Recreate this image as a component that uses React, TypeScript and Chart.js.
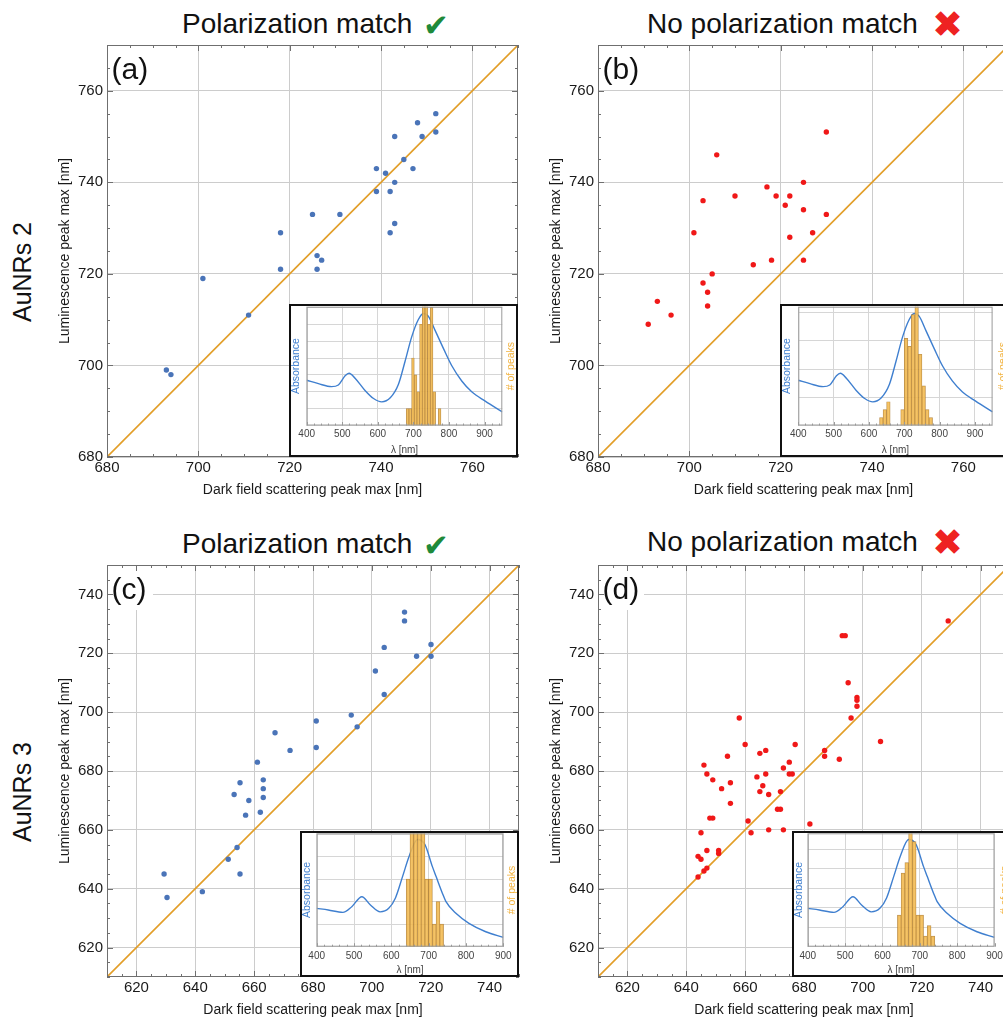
import React, { useEffect, useRef } from 'react';
import { Chart, registerables } from 'chart.js';

Chart.register(...registerables);

const FONT = '"Liberation Sans", Arial, Helvetica, sans-serif';
const ORANGE = 'rgb(226,158,40)';
const BLUE_PT = '#4a74b8';
const RED_PT = '#f01818';
const GRID = '#cccccc';
const GRID_IN = '#d6d6d6';

// ---------------- Main panels: axis ranges, ticks & y = x reference line ----------------
const AB_RANGE = [680, 770];
const CD_RANGE = [610, 750];
const AB_TICKS = [680, 700, 720, 740, 760];
const CD_TICKS = [620, 640, 660, 680, 700, 720, 740];
const DIAG_AB = [680, 770];
const DIAG_CD = [610, 750];

// (a) AuNRs 2, polarization match
const A_X = [693, 694, 701, 711, 718, 718, 725, 726, 727, 726, 731, 739, 739, 741, 742, 743, 743, 743, 742, 745, 747, 748, 749, 752, 752];
const A_Y = [699, 698, 719, 711, 729, 721, 733, 724, 723, 721, 733, 743, 738, 742, 738, 740, 750, 731, 729, 745, 743, 753, 750, 755, 751];

// (b) AuNRs 2, no polarization match
const B_X = [691, 693, 696, 701, 703, 703, 704, 704, 705, 706, 710, 714, 717, 718, 719, 721, 722, 722, 725, 725, 725, 727, 730, 730];
const B_Y = [709, 714, 711, 729, 736, 718, 716, 713, 720, 746, 737, 722, 739, 723, 737, 735, 737, 728, 740, 734, 723, 729, 751, 733];

// (c) AuNRs 3, polarization match
const C_X = [629.4, 630.4, 642.4, 651.2, 654.2, 655.2, 653.2, 655.2, 657.1, 658.2, 661.1, 662.1, 663.1, 663.1, 663.1, 667.1, 672.2, 681.1, 681.1, 693, 695, 701.2, 704.2, 704.2, 711.1, 711.1, 715.2, 720.1, 720.1];
const C_Y = [645, 637, 639, 650, 654, 645, 672, 676, 665, 670, 683, 666, 677, 674, 671, 693, 687, 697, 688, 699, 695, 714, 722, 706, 734, 731, 719, 723, 719];

// (d) AuNRs 3, no polarization match
const D_X = [644, 644, 645, 645, 646, 647, 647, 646, 647, 649, 648, 649, 651, 651, 652, 654, 655, 655, 658, 660, 661, 662, 664, 665, 665, 666, 667, 667, 668, 668, 671, 672, 672, 673, 673, 675, 675, 676, 677, 682, 687, 687, 692, 693, 694, 695, 696, 698, 698, 698, 706, 729];
const D_Y = [644, 651, 650, 659, 646, 647, 653, 682, 679, 677, 664, 664, 653, 652, 674, 685, 676, 669, 698, 689, 663, 659, 678, 686, 673, 675, 687, 679, 672, 660, 667, 667, 673, 681, 660, 683, 679, 679, 689, 662, 687, 685, 684, 726, 726, 710, 698, 705, 704, 702, 690, 731];

// ---------------- Insets: absorbance spectra (normalised) ----------------
const SPEC2_NM = [400, 433, 470, 489, 508, 519, 536, 564, 588, 611, 635, 658, 677, 695, 714, 728, 742, 761, 785, 808, 836, 864, 902, 950];
const SPEC2_ABS = [0.381, 0.352, 0.327, 0.341, 0.418, 0.44, 0.398, 0.295, 0.227, 0.199, 0.233, 0.347, 0.545, 0.744, 0.892, 0.943, 0.92, 0.801, 0.645, 0.503, 0.375, 0.284, 0.205, 0.114];
const SPEC3_NM = [400, 431, 470, 494, 521, 544, 570, 593, 611, 630, 648, 670, 690, 710, 720, 737, 746, 773, 808, 853, 900];
const SPEC3_ABS = [0.338, 0.324, 0.303, 0.353, 0.441, 0.368, 0.307, 0.338, 0.43, 0.618, 0.8, 0.945, 0.9, 0.706, 0.618, 0.47, 0.4, 0.294, 0.206, 0.132, 0.082];

// ---------------- Insets: histograms of peak positions ----------------
const HA_NM = [683.75, 691.25, 698.75, 706.25, 713.75, 721.25, 728.75, 736.25, 743.75, 751.25, 758.75, 766.25, 773.75];
const HA_N = [1, 1, 4, 3, 2, 6, 8, 8, 6, 7, 2, 0, 1];
const HB_NM = [635, 645, 655, 665, 675, 685, 695, 705, 715, 725, 735, 745, 755, 765, 775];
const HB_N = [1, 2, 3, 0, 0, 0, 2, 11, 10, 14, 16, 9, 5, 2, 1];
const HC_NM = [645, 655, 665, 675, 685, 695, 705, 715, 725, 735];
const HC_N = [3, 6, 7, 7, 6, 3, 3, 1, 2, 1];
const HD_NM = [645, 655, 665, 675, 685, 695, 705, 715, 725, 735];
const HD_N = [3, 7, 8, 11, 10, 3, 3, 1, 2, 1];

type Rect = { l: number; t: number; r: number; b: number };

const zeroPad = (s: any) => {
  s.paddingLeft = 0;
  s.paddingRight = 0;
  s.paddingTop = 0;
  s.paddingBottom = 0;
};

function MainPanel(props: { xs: number[]; ys: number[]; color: string; range: number[]; ticks: number[]; diag: number[]; label: string; plot: Rect }) {
  const { xs, ys, color, range, ticks, diag, label, plot } = props;
  const ref = useRef<HTMLCanvasElement | null>(null);
  const AXW = 67, AXH = 53, PT = 5, PR = 12;
  const W = Math.round(plot.r - plot.l + AXW + PR);
  const H = Math.round(plot.b - plot.t + PT + AXH);
  useEffect(() => {
    const canvas = ref.current;
    if (!canvas) return;
    const setTicks = (s: any) => { s.ticks = ticks.map((v) => ({ value: v })); };
    const deco = {
      id: 'deco',
      beforeDatasetsDraw(chart: any) {
        const { ctx, chartArea: a } = chart;
        ctx.save();
        ctx.fillStyle = '#ffffff';
        ctx.fillRect(a.left + 1, a.top + 1, 45, 44);
        ctx.fillStyle = '#111111';
        ctx.font = `30px ${FONT}`;
        ctx.textAlign = 'left';
        ctx.textBaseline = 'middle';
        ctx.fillText(label, a.left + 4.5, a.top + 26);
        ctx.restore();
      },
      afterDraw(chart: any) {
        const { ctx, chartArea: a, scales } = chart;
        const sx = scales.x, sy = scales.y;
        ctx.save();
        ctx.strokeStyle = '#6f6f6f';
        ctx.lineWidth = 1;
        ctx.strokeRect(a.left + 0.5, a.top + 0.5, a.right - a.left - 1, a.bottom - a.top - 1);
        ctx.beginPath();
        for (let v = Math.ceil(range[0] / 5) * 5; v <= range[1]; v += 5) {
          const len = v % 20 === 0 ? 6 : 3;
          const px = Math.round(sx.getPixelForValue(v)) + 0.5;
          ctx.moveTo(px, a.bottom);
          ctx.lineTo(px, a.bottom - len);
          ctx.moveTo(px, a.top);
          ctx.lineTo(px, a.top + len);
          const py = Math.round(sy.getPixelForValue(v)) + 0.5;
          ctx.moveTo(a.left, py);
          ctx.lineTo(a.left + len, py);
          ctx.moveTo(a.right, py);
          ctx.lineTo(a.right - len, py);
        }
        ctx.stroke();
        ctx.restore();
      },
    };
    const chart = new Chart(canvas, {
      type: 'scatter',
      data: {
        datasets: [
          {
            data: diag.map((v) => ({ x: v, y: v })),
            showLine: true,
            borderColor: ORANGE,
            borderWidth: 1.6,
            pointRadius: 0,
            order: 2,
          },
          {
            data: xs.map((x, i) => ({ x, y: ys[i] })),
            backgroundColor: color,
            borderWidth: 0,
            pointRadius: 2.7,
            order: 1,
          },
        ],
      } as any,
      options: {
        animation: false,
        responsive: false,
        devicePixelRatio: 1,
        layout: { padding: { left: 0, top: PT, right: PR, bottom: 0 } },
        plugins: { legend: { display: false }, tooltip: { enabled: false } },
        scales: {
          x: {
            type: 'linear',
            min: range[0],
            max: range[1],
            afterBuildTicks: setTicks,
            ticks: { autoSkip: false, maxRotation: 0, padding: 2, color: '#1a1a1a', font: { family: FONT, size: 15 } },
            grid: { color: GRID, drawTicks: false, lineWidth: 1 },
            border: { display: false },
            title: { display: true, text: 'Dark field scattering peak max [nm]', color: '#1a1a1a', font: { family: FONT, size: 14 }, padding: { top: 0, bottom: 11.6 } },
            afterFit: (s: any) => { s.height = AXH; zeroPad(s); },
          },
          y: {
            type: 'linear',
            min: range[0],
            max: range[1],
            afterBuildTicks: setTicks,
            ticks: { autoSkip: false, padding: 4, color: '#1a1a1a', font: { family: FONT, size: 15 } },
            grid: { color: GRID, drawTicks: false, lineWidth: 1 },
            border: { display: false },
            title: { display: true, text: 'Luminescence peak max [nm]', color: '#1a1a1a', font: { family: FONT, size: 14 }, padding: { top: 16.6, bottom: 0 } },
            afterFit: (s: any) => { s.width = AXW; zeroPad(s); },
          },
        },
      } as any,
      plugins: [deco],
    });
    return () => chart.destroy();
  }, []);
  return (
    <canvas
      ref={ref}
      width={W}
      height={H}
      style={{ position: 'absolute', left: plot.l - AXW, top: plot.t - PT, width: W, height: H, display: 'block' }}
    />
  );
}

function Inset(props: {
  box: { l: number; t: number; w: number; h: number };
  plot: Rect;
  xMax: number;
  specX: number[];
  specY: number[];
  histX: number[];
  histY: number[];
  histMax: number;
  gridStep: number;
  tickPad: number;
}) {
  const { box, plot, xMax, specX, specY, histX, histY, histMax, gridStep, tickPad } = props;
  const ref = useRef<HTMLCanvasElement | null>(null);
  const B = 2;
  const innerL = box.l + B, innerT = box.t + B;
  const W = Math.round(box.w - 2 * B);
  const H = Math.round(box.h - 2 * B);
  const leftW = plot.l - innerL;
  const rightW = innerL + W - plot.r;
  const botH = innerT + H - plot.b;
  const padT = Math.max(0, plot.t - innerT);
  useEffect(() => {
    const canvas = ref.current;
    if (!canvas) return;
    const frame = {
      id: 'frame',
      afterDraw(chart: any) {
        const { ctx, chartArea: a, scales } = chart;
        ctx.save();
        ctx.strokeStyle = '#9a9a9a';
        ctx.lineWidth = 1;
        ctx.strokeRect(a.left + 0.5, a.top + 0.5, a.right - a.left - 1, a.bottom - a.top - 1);
        ctx.beginPath();
        for (let v = 400; v <= xMax; v += 20) {
          const px = Math.round(scales.x.getPixelForValue(v)) + 0.5;
          const len = v % 100 === 0 ? 3.5 : 2;
          ctx.moveTo(px, a.bottom);
          ctx.lineTo(px, a.bottom - len);
        }
        ctx.stroke();
        // right-hand axis title, reading bottom-to-top
        ctx.translate(chart.width - 5.2, (a.top + a.bottom) / 2);
        ctx.rotate(-Math.PI / 2);
        ctx.fillStyle = '#f2b340';
        ctx.font = `10.5px ${FONT}`;
        ctx.textAlign = 'center';
        ctx.textBaseline = 'middle';
        ctx.fillText('# of peaks', 0, 0);
        ctx.restore();
      },
    };
    const chart = new Chart(canvas, {
      type: 'bar',
      data: {
        datasets: [
          {
            type: 'bar',
            data: histX.map((x, i) => ({ x, y: histY[i] })),
            xAxisID: 'x',
            yAxisID: 'yH',
            backgroundColor: 'rgba(243,187,82,0.88)',
            borderColor: 'rgba(170,122,50,0.85)',
            borderWidth: 0.7,
            barPercentage: 1,
            categoryPercentage: 1,
            grouped: false,
            order: 1,
          },
          {
            type: 'line',
            data: specX.map((x, i) => ({ x, y: specY[i] })),
            xAxisID: 'x',
            yAxisID: 'yA',
            borderColor: '#3f7fcf',
            borderWidth: 1.4,
            pointRadius: 0,
            cubicInterpolationMode: 'monotone',
            fill: false,
            order: 2,
          },
        ],
      } as any,
      options: {
        animation: false,
        responsive: false,
        devicePixelRatio: 1,
        layout: { padding: { left: 0, top: padT, right: 0, bottom: 0 } },
        plugins: { legend: { display: false }, tooltip: { enabled: false } },
        scales: {
          x: {
            type: 'linear',
            min: 400,
            max: xMax,
            offset: false,
            ticks: { stepSize: 100, includeBounds: false, autoSkip: false, maxRotation: 0, padding: tickPad, color: '#444444', font: { family: FONT, size: 10 } },
            grid: { color: GRID_IN, drawTicks: false, offset: false },
            border: { display: false },
            title: { display: true, text: 'λ [nm]', color: '#444444', font: { family: FONT, size: 10, lineHeight: 1 }, padding: { top: 0, bottom: 0 } },
            afterFit: (s: any) => { s.height = botH; zeroPad(s); },
          },
          yA: {
            type: 'linear',
            position: 'left',
            min: 0,
            max: 1,
            ticks: { display: false },
            grid: { color: GRID_IN, drawTicks: false },
            border: { display: false },
            title: { display: true, text: 'Absorbance', color: '#3f7fcf', font: { family: FONT, size: 10.5, lineHeight: 1 }, padding: { top: 0, bottom: 0 } },
            afterBuildTicks: (s: any) => {
              const t: any[] = [];
              for (let k = 0; k * gridStep <= 1.0001; k++) t.push({ value: k * gridStep });
              s.ticks = t;
            },
            afterFit: (s: any) => { s.width = leftW; zeroPad(s); },
          },
          yH: {
            type: 'linear',
            position: 'right',
            min: 0,
            max: histMax,
            ticks: { display: false },
            grid: { display: false, drawTicks: false },
            border: { display: false },
            title: { display: false },
            afterFit: (s: any) => { s.width = rightW; zeroPad(s); },
          },
        },
      } as any,
      plugins: [frame],
    });
    return () => chart.destroy();
  }, []);
  return (
    <div
      style={{
        position: 'absolute',
        left: box.l,
        top: box.t,
        width: box.w,
        height: box.h,
        boxSizing: 'border-box',
        border: `${B}px solid #111111`,
        background: '#ffffff',
      }}
    >
      <canvas ref={ref} width={W} height={H} style={{ display: 'block', width: W, height: H }} />
    </div>
  );
}

function Heading(props: { left: number; top: number; text: string }) {
  return (
    <div
      style={{
        position: 'absolute',
        left: props.left,
        top: props.top,
        fontFamily: FONT,
        fontSize: 28,
        lineHeight: '34px',
        whiteSpace: 'nowrap',
        color: '#111111',
      }}
    >
      {props.text}
    </div>
  );
}

function Mark(props: { left: number; top: number; size: number; glyph: string; color: string }) {
  return (
    <div
      style={{
        position: 'absolute',
        left: props.left,
        top: props.top,
        fontFamily: '"DejaVu Sans", sans-serif',
        fontSize: props.size,
        lineHeight: `${props.size}px`,
        whiteSpace: 'nowrap',
        color: props.color,
      }}
    >
      {props.glyph}
    </div>
  );
}

function RowLabel(props: { cx: number; cy: number; text: string }) {
  return (
    <div
      style={{
        position: 'absolute',
        left: props.cx,
        top: props.cy,
        transform: 'translate(-50%, -50%) rotate(-90deg)',
        fontFamily: FONT,
        fontSize: 25,
        lineHeight: '30px',
        whiteSpace: 'nowrap',
        color: '#111111',
      }}
    >
      {props.text}
    </div>
  );
}

export default function App() {
  return (
    <div
      style={{
        position: 'fixed',
        left: 0,
        top: 0,
        width: 1003,
        height: 1017,
        overflow: 'hidden',
        background: '#ffffff',
      }}
    >
      <Heading left={182} top={7} text="Polarization match" />
      <Mark left={423} top={10} size={31} glyph="✔" color="#1e8a3a" />
      <Heading left={647} top={7} text="No polarization match" />
      <Mark left={932} top={6} size={37} glyph="✖" color="#ee2222" />
      <Heading left={182} top={527} text="Polarization match" />
      <Mark left={423} top={530} size={31} glyph="✔" color="#1e8a3a" />
      <Heading left={647} top={525} text="No polarization match" />
      <Mark left={932} top={524} size={37} glyph="✖" color="#ee2222" />
      <RowLabel cx={22} cy={272} text="AuNRs 2" />
      <RowLabel cx={22} cy={792} text="AuNRs 3" />

      <MainPanel xs={A_X} ys={A_Y} color={BLUE_PT} range={AB_RANGE} ticks={AB_TICKS} diag={DIAG_AB} label="(a)" plot={{ l: 107, t: 45, r: 518, b: 457 }} />
      <MainPanel xs={B_X} ys={B_Y} color={RED_PT} range={AB_RANGE} ticks={AB_TICKS} diag={DIAG_AB} label="(b)" plot={{ l: 598, t: 45, r: 1009, b: 457 }} />
      <MainPanel xs={C_X} ys={C_Y} color={BLUE_PT} range={CD_RANGE} ticks={CD_TICKS} diag={DIAG_CD} label="(c)" plot={{ l: 107, t: 565, r: 518.5, b: 977 }} />
      <MainPanel xs={D_X} ys={D_Y} color={RED_PT} range={CD_RANGE} ticks={CD_TICKS} diag={DIAG_CD} label="(d)" plot={{ l: 598, t: 565, r: 1009.5, b: 977 }} />

      <Inset box={{ l: 289, t: 304, w: 229, h: 153 }} plot={{ l: 306.7, t: 306.7, r: 502.3, b: 425.5 }} xMax={950}
        specX={SPEC2_NM} specY={SPEC2_ABS} histX={HA_NM} histY={HA_N} histMax={7.04} gridStep={0.142} tickPad={3} />
      <Inset box={{ l: 780, t: 304, w: 230, h: 153 }} plot={{ l: 798.3, t: 306.7, r: 992.6, b: 425.5 }} xMax={950}
        specX={SPEC2_NM} specY={SPEC2_ABS} histX={HB_NM} histY={HB_N} histMax={15} gridStep={0.2375} tickPad={3} />
      <Inset box={{ l: 300, t: 831, w: 218.5, h: 146 }} plot={{ l: 316.7, t: 833.3, r: 503.3, b: 946.7 }} xMax={900}
        specX={SPEC3_NM} specY={SPEC3_ABS} histX={HC_NM} histY={HC_N} histMax={5.04} gridStep={0.198} tickPad={3.3} />
      <Inset box={{ l: 791.5, t: 831, w: 220, h: 146 }} plot={{ l: 807.3, t: 833.3, r: 994, b: 946.7 }} xMax={900}
        specX={SPEC3_NM} specY={SPEC3_ABS} histX={HD_NM} histY={HD_N} histMax={10.8} gridStep={0.172} tickPad={3.3} />
    </div>
  );
}
